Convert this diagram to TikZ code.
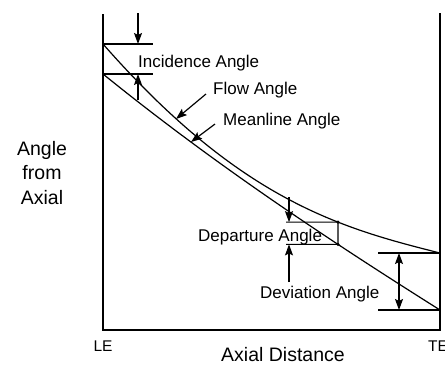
\documentclass[tikz,border=0pt]{standalone}
\usepackage{fontspec}
\setmainfont{Liberation Sans}
\usetikzlibrary{arrows.meta,intersections}
\begin{document}
\begin{tikzpicture}[x=1pt,y=-1pt,
  lbl/.style={anchor=base west,inner sep=0pt,font=\fontsize{17}{20}\selectfont},
  axlbl/.style={anchor=base,inner sep=0pt,font=\fontsize{19.5}{23}\selectfont},
  endlbl/.style={anchor=base,inner sep=0pt,font=\fontsize{15.5}{18}\selectfont},
  axisline/.style={line width=1.6pt,line join=miter},
  guide/.style={line width=1.1pt},
  curveline/.style={line width=1.2pt},
  arr/.style={line width=1.2pt,-{Stealth[length=11pt,width=8pt,inset=2pt]}},
  darr/.style={line width=1.2pt,{Stealth[length=11pt,width=8pt,inset=2pt]}-{Stealth[length=11pt,width=8pt,inset=2pt]}},
  dot/.style={circle,fill,inner sep=0pt,minimum size=3.5pt}]
\useasboundingbox (0,0) rectangle (445,365);
% axes
\coordinate (LEtop) at (103,14);
\coordinate (LEbot) at (103,330);
\coordinate (TEbot) at (440,330);
\coordinate (TEtop) at (440,13);
\draw[axisline] (LEtop) -- (LEbot) -- (TEbot) -- (TEtop);
% curves
\coordinate (f0) at (103,44); \coordinate (f3) at (440,253);
\coordinate (m0) at (103,74); \coordinate (m3) at (440,310);
\draw[curveline,name path=flow] (f0) .. controls (240,200) and (340,228) .. (f3);
\draw[curveline,name path=mean] (m0) .. controls (215,164.7) and (328,239.4) .. (m3);
\path[name path=vline] (338,150) -- (338,300);
\path[name intersections={of=flow and vline,by=d1b}];
\path[name intersections={of=mean and vline,by=d2b}];
% incidence
\coordinate (i1b) at (153,44);
\coordinate (i2b) at (153,74);
\draw[guide] (f0) -- (i1b);
\draw[guide] (m0) -- (i2b);
\coordinate (ia1) at (138,13); \coordinate (ia1t) at (138,44);
\coordinate (ia2) at (138,100); \coordinate (ia2t) at (138,74);
\draw[arr] (ia1) -- (ia1t);
\draw[arr] (ia2) -- (ia2t);
\node[lbl] (inc) at (138,67) {Incidence Angle};
% flow / meanline pointers
\coordinate (fa) at (206,94); \coordinate (fat) at (176,119);
\draw[arr] (fa) -- (fat);
\node[lbl] (flowlbl) at (213,94) {Flow Angle};
\coordinate (ma) at (215,124); \coordinate (mat) at (191,142);
\draw[arr] (ma) -- (mat);
\node[lbl] (meanlbl) at (223,125) {Meanline Angle};
% departure
\coordinate (d1a) at (286,0 |- d1b);
\coordinate (d2a) at (286,0 |- d2b);
\draw[guide] (d1a) -- (d1b) -- (d2b) -- (d2a);
\node[dot] (dd1) at (d1b) {};
\node[dot] (dd2) at (d2b) {};
\coordinate (da1) at (289,197);
\coordinate (da1t) at (289,0 |- d1b);
\coordinate (da2) at (289,282);
\coordinate (da2t) at (289,0 |- d2b);
\draw[arr] (da1) -- (da1t);
\draw[arr] (da2) -- (da2t);
\node[lbl] (dep) at (198,241) {Departure Angle};
% deviation
\coordinate (v1a) at (378,253);
\coordinate (v2a) at (378,310);
\draw[guide] (v1a) -- (f3);
\draw[guide] (v2a) -- (m3);
\coordinate (va1) at (399,253); \coordinate (va2) at (399,310);
\draw[darr] (va1) -- (va2);
\node[lbl] (dev) at (260,298) {Deviation Angle};
% axis labels
\node[axlbl] (yl1) at (42,155) {Angle};
\node[axlbl] (yl2) at (42,179) {from};
\node[axlbl] (yl3) at (42,204) {Axial};
\node[axlbl] (xl) at (283,361) {Axial Distance};
\node[endlbl] (le) at (103,351) {LE};
\node[endlbl] (te) at (438,351) {TE};
\end{tikzpicture}
\end{document}
